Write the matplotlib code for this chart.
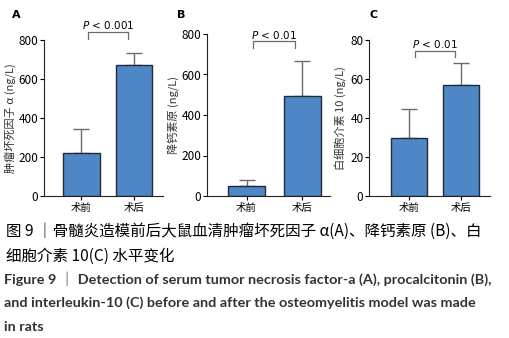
import matplotlib
matplotlib.use('Agg')
import matplotlib.pyplot as plt

plt.rcParams['font.family'] = ['Noto Sans CJK SC', 'DejaVu Sans']

groups = ['术前', '术后']

tnf_mean = [220, 670]
tnf_sd = [125, 65]
pct_mean = [50, 495]
pct_sd = [28, 172]
il10_mean = [30, 57]
il10_sd = [14.5, 11]

panel_letters = ['A', 'B', 'C']
ylabels = ['肿瘤坏死因子 α (ng/L)', '降钙素原 (ng/L)', '白细胞介素 10 (ng/L)']
yticks = [[0, 200, 400, 600, 800], [0, 200, 400, 600, 800], [0, 20, 40, 60, 80]]
pvals = [r'$\it{P}$ < 0.001', r'$\it{P}$ < 0.01', r'$\it{P}$ < 0.01']
bracket_y = [841, 765, 74.4]
bracket_drop = [36, 34, 3.2]
ptext_y = [875, 795, 78]

W, H = 509, 338
# axes boxes in pixels: left, right, top (ymax), bottom (0)
boxes = [(44, 163, 40, 196), (207, 330, 34, 196), (369, 490, 40, 196)]
xlims = [(-0.71, 1.55), (-0.71, 1.5), (-0.77, 1.56)]
bar_w = [0.7, 0.67, 0.69]
letter_x = [12, 177, 369]

BAR = '#4f86c6'
EDGE = '#1f2a3a'
GRAY = '#6b6b6b'

fig = plt.figure(figsize=(W / 100, H / 100), dpi=100)

data = [(tnf_mean, tnf_sd), (pct_mean, pct_sd), (il10_mean, il10_sd)]
for i, ((means, sds), (l, r, t, b)) in enumerate(zip(data, boxes)):
    ax = fig.add_axes([l / W, 1 - b / H, (r - l) / W, (b - t) / H])
    x = [0, 1]
    ax.bar(x, means, width=bar_w[i], color=BAR, edgecolor=EDGE, linewidth=1.0, zorder=2)
    ax.errorbar(x, means, yerr=[[0, 0], sds], fmt='none', ecolor=GRAY,
                elinewidth=1.0, capsize=6, capthick=1.0, zorder=1)
    ax.set_xlim(*xlims[i])
    ax.set_ylim(0, yticks[i][-1])
    ax.set_yticks(yticks[i])
    ax.set_xticks(x)
    ax.set_xticklabels(groups, fontsize=7.5)
    ax.tick_params(axis='y', labelsize=8.5, length=3, width=0.8, pad=1)
    ax.tick_params(axis='x', length=3, width=0.8, pad=2)
    for s in ['top', 'right']:
        ax.spines[s].set_visible(False)
    for s in ['left', 'bottom']:
        ax.spines[s].set_linewidth(0.8)
        ax.spines[s].set_color('#222222')
    ax.set_ylabel(ylabels[i], fontsize=8, labelpad=2, color='#333333')

    yb = bracket_y[i]
    d = bracket_drop[i]
    ax.plot([0.12, 0.12, 0.88, 0.88], [yb - d, yb, yb, yb - d], color=GRAY,
            linewidth=0.9, clip_on=False)
    ax.text(0.5, ptext_y[i], pvals[i], ha='center', va='center', fontsize=7.5,
            family='DejaVu Sans', clip_on=False)

    fig.text(letter_x[i] / W, 1 - 15 / H, panel_letters[i],
             fontsize=8, fontweight='bold', family='DejaVu Sans', va='center')

# caption
fig.text(6 / W, 1 - 231 / H, '图 9 ｜骨髓炎造模前后大鼠血清肿瘤坏死因子 α(A)、降钙素原 (B)、白',
         fontsize=11.2, va='center', ha='left')
fig.text(6 / W, 1 - 256 / H, '细胞介素 10(C) 水平变化', fontsize=11.2, va='center', ha='left')
eng = ['Figure 9 ｜ Detection of serum tumor necrosis factor-a (A), procalcitonin (B),',
       'and interleukin-10 (C) before and after the osteomyelitis model was made',
       'in rats']
for k, line in enumerate(eng):
    fig.text(4 / W, 1 - (279 + 24 * k) / H, line, fontsize=10.4, fontweight='bold',
             family=['Lato', 'Noto Sans CJK SC'], color='#333333', va='center', ha='left')

fig.savefig('out.png', dpi=100)
